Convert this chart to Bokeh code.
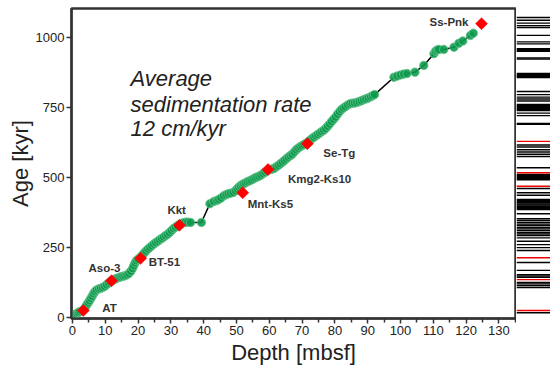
from bokeh.plotting import figure
from bokeh.layouts import row
from bokeh.models import ColumnDataSource, FixedTicker, Label
from bokeh.core.properties import value
from bokeh.embed import file_html
from bokeh.resources import INLINE

# ---- data ----
depth = [0.0, 0.3, 0.6, 1.0, 1.4, 1.8, 2.3, 3.0, 3.6, 4.0, 4.4, 4.8, 5.2, 5.6, 6.0, 6.4, 6.8, 7.3,
         8.0, 8.6, 9.2, 9.8, 10.4, 11.0, 11.6, 12.4, 13.0, 13.6, 14.2, 14.8, 15.4, 16.0, 16.6, 17.2,
         17.8, 18.3, 18.7, 19.1, 19.5, 20.0, 20.6, 21.2, 21.8, 22.4, 23.0, 23.6, 24.2, 24.8, 25.4,
         26.0, 26.6, 27.2, 27.8, 28.4, 29.0, 29.6, 30.2, 30.8, 31.4, 32.0, 32.6, 33.2, 33.8, 34.5,
         35.2, 36.0, 39.3, 41.9, 43.1, 44.0, 44.6, 45.3, 46.1, 46.8, 47.5, 48.2, 49.0, 49.7, 50.2,
         50.7, 51.2, 51.7, 52.2, 52.7, 53.3, 53.9, 54.5, 55.1, 55.7, 56.3, 56.9, 57.5, 58.1, 58.7,
         59.3, 59.9, 60.5, 61.1, 61.6, 62.2, 62.8, 63.4, 64.0, 64.6, 65.2, 65.8, 66.4, 67.0, 67.6,
         68.2, 68.8, 69.4, 70.0, 70.6, 71.2, 71.8, 72.4, 73.0, 73.6, 74.2, 74.8, 75.4, 76.0, 76.6,
         77.2, 77.8, 78.4, 79.0, 79.6, 80.2, 80.8, 81.4, 82.0, 82.6, 83.2, 83.9, 84.6, 85.3, 86.0,
         86.7, 87.4, 88.1, 88.8, 89.5, 90.2, 90.9, 91.5, 92.1, 98.0, 99.0, 100.0, 101.0, 102.0,
         104.4, 107.1, 110.2, 110.7, 111.2, 111.7, 113.2, 116.3, 117.8, 119.0, 121.3, 122.2]
age = [0, 4, 8, 12, 15, 18, 21, 24, 30, 38, 46, 53, 60, 68, 76, 85, 92, 98,
       102, 104, 107, 111, 117, 123, 128, 133, 137, 140, 143, 145, 147, 149, 152, 157,
       165, 175, 185, 195, 203, 208, 214, 221, 229, 237, 244, 250, 256, 262, 267,
       272, 277, 282, 287, 292, 297, 303, 310, 317, 322, 327, 331, 335, 338, 340,
       340, 339, 339, 406, 414, 417, 421, 426, 434, 438, 441, 443, 446, 452, 459,
       465, 470, 474, 477, 480, 484, 487, 490, 494, 498, 501, 504, 508, 513, 518,
       523, 527, 529, 530, 533, 538, 543, 548, 554, 560, 566, 572, 577, 582, 590,
       598, 604, 609, 613, 617, 621, 626, 632, 638, 643, 648, 653, 658, 663, 668,
       674, 682, 690, 699, 707, 715, 725, 734, 742, 747, 752, 758, 762, 764, 765,
       767, 770, 773, 777, 780, 783, 787, 791, 795, 857, 861, 865, 868, 870,
       875, 899, 941, 950, 954, 956, 956, 964, 978, 986, 1006, 1014]

tephra_names = ["AT", "Aso-3", "BT-51", "Kkt", "Mnt-Ks5", "Kmg2-Ks10", "Se-Tg", "Ss-Pnk"]
tephra_depth = [3.3, 11.9, 20.8, 32.6, 51.9, 59.6, 71.6, 124.7]
tephra_age = [25, 131, 211, 329, 445, 528, 620, 1048]

strip_black_ages = [1070, 1060, 1050, 1041, 1034, 1006, 983, 976, 959, 956, 952, 949, 926, 922,
                    870, 866, 862, 859, 856, 806, 795, 786, 779, 772,
                    760, 756, 752, 749, 745, 742, 738, 729, 720, 692, 689,
                    615, 608, 598, 590, 582, 574, 534,
                    510, 506, 503, 499, 495, 491, 460, 445, 436,
                    421, 417, 413, 409, 405, 401, 397, 393, 389, 385, 370, 352, 346,
                    339, 333, 328, 321, 316, 310, 303, 298, 292, 284, 272, 260, 249, 239,
                    196, 168, 153, 148, 143, 125, 120, 114, 107, 17]
strip_red_ages = [628, 516, 468, 213, 135, 25]

x_ticks = [0, 10, 20, 30, 40, 50, 60, 70, 80, 90, 100, 110, 120, 130]
x_minor_ticks = [5, 15, 25, 35, 45, 55, 65, 75, 85, 95, 105, 115, 125, 135]
y_ticks = [0, 250, 500, 750, 1000]

# label offsets (screen px) relative to each tephra marker
label_dx = [19, -23, 8, -12, 5, 20, 16, -52]
label_dy = [-2, -13, 4, -15, 11, 10, 9, -2]

FONT = "Liberation Sans"
INK = "#222222"

p = figure(width=516, height=370, x_range=(-0.3, 135.06), y_range=(-3.6, 1102),
           output_backend="svg", toolbar_location=None,
           min_border_left=71, min_border_right=1, min_border_top=8, min_border_bottom=52)
p.grid.visible = False
p.outline_line_color = "#333333"
p.outline_line_width = 2.5
p.background_fill_color = "white"
p.border_fill_color = "white"

p.xaxis.ticker = FixedTicker(ticks=x_ticks, minor_ticks=x_minor_ticks)
p.yaxis.ticker = FixedTicker(ticks=y_ticks, minor_ticks=[])
for ax in (p.xaxis[0], p.yaxis[0]):
    ax.axis_line_color = "#333333"
    ax.axis_line_width = 2
    ax.major_tick_line_color = "#333333"
    ax.major_tick_line_width = 1.5
    ax.major_tick_out = 5
    ax.major_tick_in = 0
    ax.minor_tick_line_color = "#333333"
    ax.minor_tick_line_width = 1.5
    ax.minor_tick_out = 4
    ax.minor_tick_in = 0
    ax.major_label_text_font = FONT
    ax.major_label_text_font_size = "13px"
    ax.major_label_text_color = INK
    ax.axis_label_text_font = FONT
    ax.axis_label_text_font_size = "22px"
    ax.axis_label_text_font_style = "normal"
    ax.axis_label_text_color = INK
p.xaxis.axis_label = "Depth [mbsf]"
p.yaxis.axis_label = "Age [kyr]"
p.xaxis.major_label_standoff = 2
p.yaxis.major_label_standoff = 2
p.xaxis.axis_label_standoff = 2
p.yaxis.axis_label_standoff = 0

src = ColumnDataSource(dict(depth=depth, age=age))
p.line("depth", "age", source=src, line_color="black", line_width=1.5)
p.scatter("depth", "age", source=src, marker="circle", size=8.5,
          fill_color="#0c9a4c", fill_alpha=0.9, line_color="#6cc590", line_width=0.8)

tsrc = ColumnDataSource(dict(x=tephra_depth, y=tephra_age, name=tephra_names,
                             dx=label_dx, dy=label_dy))
p.scatter("x", "y", source=tsrc, marker="square", angle=0.7853981634, size=8.5,
          fill_color="#ff0000", line_color="#ff0000", line_width=0.5)
p.text("x", "y", text="name", source=tsrc, x_offset="dx", y_offset="dy",
       text_font=value(FONT), text_font_size="11.5px", text_font_style="bold",
       text_color="#333333", text_align="left", text_baseline="middle")

for txt, yy in (("Average", 853), ("sedimentation rate", 760), ("12 cm/kyr", 674)):
    p.add_layout(Label(x=17.7, y=yy, text=txt, text_font=FONT, text_font_size="22px",
                       text_font_style="italic", text_color=INK,
                       text_baseline="alphabetic", text_align="left"))

# strip panel
s = figure(width=34, height=370, x_range=(0, 1), y_range=p.y_range,
           output_backend="svg", toolbar_location=None,
           min_border_left=0, min_border_right=0, min_border_top=8, min_border_bottom=52)
s.axis.visible = False
s.grid.visible = False
s.outline_line_color = None
s.segment(x0=[0] * len(strip_black_ages), x1=[1] * len(strip_black_ages),
          y0=strip_black_ages, y1=strip_black_ages, line_color="black", line_width=1.4)
s.segment(x0=[0] * len(strip_red_ages), x1=[1] * len(strip_red_ages),
          y0=strip_red_ages, y1=strip_red_ages, line_color="#ee0000", line_width=1.4)

layout = row(p, s, spacing=0)
open("out.html", "w").write(file_html(layout, INLINE))
